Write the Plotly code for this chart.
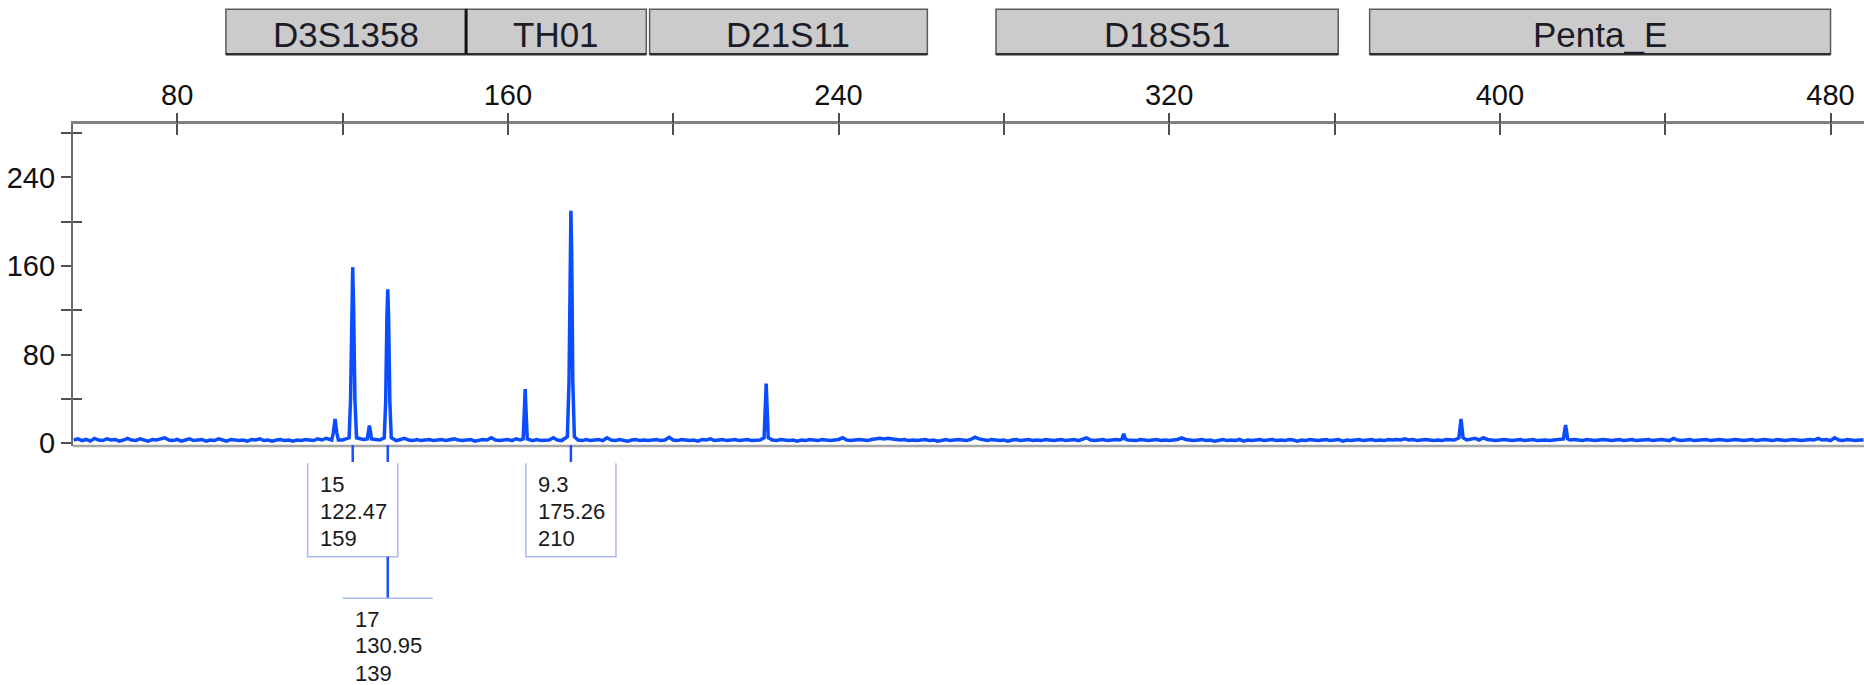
import plotly.graph_objects as go

# Locus bins shown above the size axis (bp)
LOCUS_NAMES = ["D3S1358", "TH01", "D21S11", "D18S51", "Penta_E"]
LOCUS_START = [91.8, 149.9, 194.3, 278.1, 368.5]
LOCUS_END = [149.9, 193.5, 261.5, 360.9, 480.0]

# Called alleles: allele, size (bp), height (RFU), label row under the axis
CALL_ALLELE = ["15", "17", "9.3"]
CALL_SIZE = [122.47, 130.95, 175.26]
CALL_RFU = [159, 139, 210]
CALL_ROW = [0, 1, 0]

# Baseline signal (RFU), one sample per bp from 55 bp to 488 bp
BASE_START = 55
BASE_RFU = [
    3, 4, 2.5, 3.5, 2, 4.5, 3, 2.5, 4, 3,
    3.5, 2, 3, 4.5, 3, 2.5, 4, 3, 2, 3.5,
    3, 4, 5, 3, 2.5, 3.5, 2, 3, 4, 2.5,
    3, 3.5, 2, 3, 2.5, 4, 3, 2, 3.5, 3,
    2.5, 3, 2, 3.5, 3, 4, 2.5, 3, 2, 3,
    3.5, 2.5, 3, 2, 3, 2.5, 3.5, 3, 2.5, 4,
    3, 4.5, 3, 3, 2.5, 3, 2.5, 3, 3, 3,
    3.5, 3, 3, 3.5, 3, 3, 3, 3, 2.5, 3.5,
    4.5, 3, 2.5, 3.5, 2.5, 3, 3.5, 2.5, 3, 3.5,
    2.5, 3, 4, 3, 2.5, 3, 3.5, 2, 3, 3.5,
    3, 5, 3, 2.5, 3, 3.5, 2.5, 4, 3, 3,
    3, 2.5, 3.5, 2.5, 3, 3, 5, 3, 2.5, 3.5,
    3, 3, 3, 2.5, 3.5, 2.5, 3, 3.5, 2.5, 5,
    3, 2.5, 3.5, 3, 2, 3, 3.5, 2.5, 3, 2.5,
    3, 3.5, 2.5, 3, 5.5, 3, 2.5, 3.5, 3, 2.5,
    3, 2, 3.5, 3, 4, 2.5, 3, 3.5, 2.5, 3,
    3.5, 2.5, 3, 3.5, 2.5, 3, 3, 3, 3, 3,
    2.5, 3.5, 3, 2.5, 3, 2, 3, 2.5, 3.5, 3,
    2.5, 3.5, 3, 2.5, 3, 3.5, 5, 3, 2.5, 3,
    3.5, 3, 2.5, 3.5, 4, 4.5, 4, 4.5, 4, 3.5,
    3, 3.5, 2.5, 3, 2.5, 3, 3.5, 2.5, 3, 2,
    3, 3.5, 2.5, 3, 3.5, 3, 2.5, 3.5, 5.5, 4,
    3, 2.5, 3.5, 3, 2.5, 3, 2, 3, 3.5, 2.5,
    3, 3.5, 2.5, 3, 2.5, 3.5, 3, 2.5, 3, 3.5,
    2.5, 3, 3.5, 2.5, 3.5, 5, 3, 2.5, 3, 3.5,
    2.5, 3, 3.5, 3, 3, 3, 3, 2.5, 3.5, 3,
    2.5, 3, 3.5, 2.5, 3, 2.5, 3, 3.5, 5, 3.5,
    3, 2.5, 3, 3.5, 2.5, 3, 2, 3, 3.5, 2.5,
    3, 2.5, 3.5, 2, 3, 2.5, 3, 3.5, 2.5, 3,
    3.5, 2.5, 3, 2.5, 3.5, 3, 2, 3, 2.5, 3.5,
    3, 2.5, 3, 3.5, 2.5, 3, 3.5, 2, 3, 2.5,
    3, 3.5, 2.5, 3, 3.5, 2.5, 3, 2.5, 3.5, 3,
    3.5, 3, 4, 3, 3.5, 2.5, 3, 3.5, 3, 2.5,
    3, 2.5, 3.5, 3, 3, 3, 3, 3, 3.5, 4.5,
    3, 5, 3.5, 3, 2.5, 3, 3.5, 3, 2.5, 3,
    3.5, 2.5, 3, 3.5, 2.5, 3, 3, 2.5, 3, 3.5,
    3, 3, 3, 3.5, 3, 2.5, 3.5, 3, 2.5, 3,
    3.5, 3, 2.5, 3, 3.5, 2.5, 3, 3.5, 2.5, 3,
    3, 3.5, 2.5, 3, 3.5, 3, 2.5, 4.5, 3, 2.5,
    3, 3.5, 2.5, 3, 3, 3.5, 2.5, 3, 3.5, 3,
    2.5, 3, 3.5, 3, 2.5, 3, 3.5, 2.5, 3, 3.5,
    3, 2.5, 3.5, 3, 2.5, 3, 3.5, 3, 2.5, 3,
    3.5, 3, 4.5, 3, 3.5, 2.5, 5, 3, 2.5, 3.5,
    3, 2.5, 3, 3,
]

# Peak profiles: stutter / uncalled peaks and the flanks of the called peaks
PEAK_SIZE = [
    117.4, 117.8, 118.2, 118.6, 119.0,
    121.6, 121.95, 122.25, 122.7, 123.0, 123.4,
    126.0, 126.25, 126.5, 126.75, 127.0,
    130.1, 130.45, 130.75, 131.15, 131.45, 131.8,
    163.7, 163.95, 164.2, 164.45, 164.7,
    174.4, 174.8, 175.05, 175.47, 175.72, 176.1,
    222.0, 222.25, 222.5, 222.75, 223.0,
    308.6, 309.0, 309.4,
    390.1, 390.35, 390.6, 390.85, 391.1,
    415.4, 415.65, 415.9, 416.15, 416.4,
]
PEAK_RFU = [
    3, 10, 22, 10, 3,
    5, 40, 120, 120, 40, 5,
    4, 11, 16, 11, 4,
    5, 38, 115, 115, 38, 5,
    4, 25, 49, 25, 4,
    6, 55, 165, 165, 55, 6,
    5, 30, 54, 30, 5,
    4, 8.5, 4,
    5, 14, 22, 14, 5,
    4, 11, 16.5, 11, 4,
]

X_RANGE = [54.8, 488.1]
Y_RANGE = [-2.4, 288.2]

FONT = "Liberation Sans, Arial, sans-serif"
TRACE_BLUE = "#0a4cff"
CALL_BLUE = "#1a4dff"
BOX_BLUE = "#a9b9f2"

# assemble the trace: baseline samples give way to the peak profiles
peak_pts = list(zip(PEAK_SIZE, PEAK_RFU)) + list(zip(CALL_SIZE, CALL_RFU))
base_pts = []
for i, v in enumerate(BASE_RFU):
    s = BASE_START + i
    if all(abs(s - p) >= 0.6 for p, _ in peak_pts):
        base_pts.append((s, v))
pts = sorted(base_pts + peak_pts)
xs = [p[0] for p in pts]
ys = [p[1] for p in pts]

fig = go.Figure()
fig.add_trace(go.Scatter(
    x=xs, y=ys, mode="lines",
    line=dict(color=TRACE_BLUE, width=3.5),
    hoverinfo="skip", showlegend=False,
))
# carrier trace for the overlay axes that draw the outer / inner tick halves
fig.add_trace(go.Scatter(
    x=[None], y=[None], xaxis="x2", yaxis="y2",
    mode="markers", showlegend=False, hoverinfo="skip",
))

shapes = []
annotations = []

# baseline rule along the bottom of the plot
shapes.append(dict(type="line", xref="paper", yref="paper", x0=0, x1=1, y0=0, y1=0,
                   line=dict(color="#a6a6a6", width=2.5), layer="below"))

# locus bins
BIN_Y0, BIN_Y1 = 1.2165, 1.3562
for name, a, b in zip(LOCUS_NAMES, LOCUS_START, LOCUS_END):
    shapes.append(dict(type="rect", xref="x", yref="paper", x0=a, x1=b, y0=BIN_Y0, y1=BIN_Y1,
                       fillcolor="#cbcbcb", line=dict(color="#5a5a5a", width=1.5)))
    shapes.append(dict(type="line", xref="x", yref="paper", x0=a, x1=b, y0=BIN_Y0, y1=BIN_Y0,
                       line=dict(color="#2e2e2e", width=2.5)))
    annotations.append(dict(x=(a + b) / 2, y=1.2795, xref="x", yref="paper",
                            xanchor="center", yanchor="middle",
                            text=name, showarrow=False,
                            font=dict(family=FONT, size=35, color="#1c1c28")))
# shared edge between the first two bins
shapes.append(dict(type="line", xref="x", yref="paper", x0=LOCUS_END[0], x1=LOCUS_END[0],
                   y0=BIN_Y0, y1=BIN_Y1, line=dict(color="#111111", width=3)))

# allele call labels under the axis
HALF_W = 10.9
TICK_TOP, TICK_BOT = 0.003, -0.0497
ROW0_TOP, ROW0_BOT = -0.0537, -0.3438
ROW1_TOP = -0.4730
ROW_LINES_Y = [[-0.1211, -0.2040, -0.2866], [-0.5382, -0.6211, -0.7059]]
for allele, size, rfu, row in zip(CALL_ALLELE, CALL_SIZE, CALL_RFU, CALL_ROW):
    shapes.append(dict(type="line", xref="x", yref="paper", x0=size, x1=size,
                       y0=TICK_TOP, y1=TICK_BOT, line=dict(color=CALL_BLUE, width=2.5)))
    left, right = size - HALF_W, size + HALF_W
    if row == 0:
        shapes.append(dict(type="path", xref="x", yref="paper",
                           path=f"M {left},{ROW0_TOP} L {left},{ROW0_BOT} L {right},{ROW0_BOT} L {right},{ROW0_TOP}",
                           line=dict(color=BOX_BLUE, width=1.5)))
    else:
        shapes.append(dict(type="line", xref="x", yref="paper", x0=size, x1=size,
                           y0=ROW0_BOT, y1=ROW1_TOP, line=dict(color=CALL_BLUE, width=2.5)))
        shapes.append(dict(type="line", xref="x", yref="paper", x0=left, x1=right,
                           y0=ROW1_TOP, y1=ROW1_TOP, line=dict(color=BOX_BLUE, width=1.5)))
    for line_text, ly in zip([allele, f"{size:.2f}", str(rfu)], ROW_LINES_Y[row]):
        annotations.append(dict(x=left, y=ly, xref="x", yref="paper",
                                xanchor="left", yanchor="middle", xshift=10,
                                text=line_text, showarrow=False,
                                font=dict(family=FONT, size=22, color="#1a1a1a")))

AX_LINE = "#808080"
TICK_COL = "#505050"

fig.update_layout(
    width=1864, height=685,
    margin=dict(l=73, r=0, t=124, b=239),
    paper_bgcolor="white", plot_bgcolor="white",
    showlegend=False,
    font=dict(family=FONT, color="#111111"),
    # size axis on top: labels every 80 bp, the inner tick halves drawn here
    xaxis=dict(
        range=X_RANGE, side="top", anchor="y",
        showline=True, linecolor=AX_LINE, linewidth=2.5,
        ticks="inside", ticklen=11, tickwidth=1.5, tickcolor=TICK_COL,
        tickmode="linear", tick0=0, dtick=80,
        minor=dict(tickmode="linear", tick0=0, dtick=40, ticks="inside",
                   ticklen=11, tickwidth=1.5, tickcolor=TICK_COL),
        ticklabelstandoff=5,
        showgrid=False, zeroline=False,
        tickfont=dict(family=FONT, size=29, color="#111111"),
    ),
    # outer tick halves every 40 bp
    xaxis2=dict(
        range=X_RANGE, overlaying="x", side="top", anchor="y",
        showline=False, showgrid=False, zeroline=False, showticklabels=False,
        ticks="outside", ticklen=10, tickwidth=1.5, tickcolor=TICK_COL,
        tickmode="linear", tick0=0, dtick=40,
    ),
    yaxis=dict(
        range=Y_RANGE, anchor="x",
        showline=True, linecolor="#6a6a6a", linewidth=2.2,
        ticks="outside", ticklen=10, tickwidth=1.5, tickcolor=TICK_COL,
        tickmode="array", tickvals=[0, 80, 160, 240],
        minor=dict(tickmode="array", tickvals=[40, 120, 200, 280], ticks="outside",
                   ticklen=10, tickwidth=1.5, tickcolor=TICK_COL),
        showgrid=False, zeroline=False,
        tickfont=dict(family=FONT, size=29, color="#111111"),
    ),
    yaxis2=dict(
        range=Y_RANGE, overlaying="y", side="left", anchor="x",
        showline=False, showgrid=False, zeroline=False, showticklabels=False,
        ticks="inside", ticklen=9, tickwidth=1.5, tickcolor=TICK_COL,
        tickmode="array", tickvals=[40, 120, 200, 280],
    ),
    shapes=shapes,
    annotations=annotations,
)

fig.write_html("out.html")
